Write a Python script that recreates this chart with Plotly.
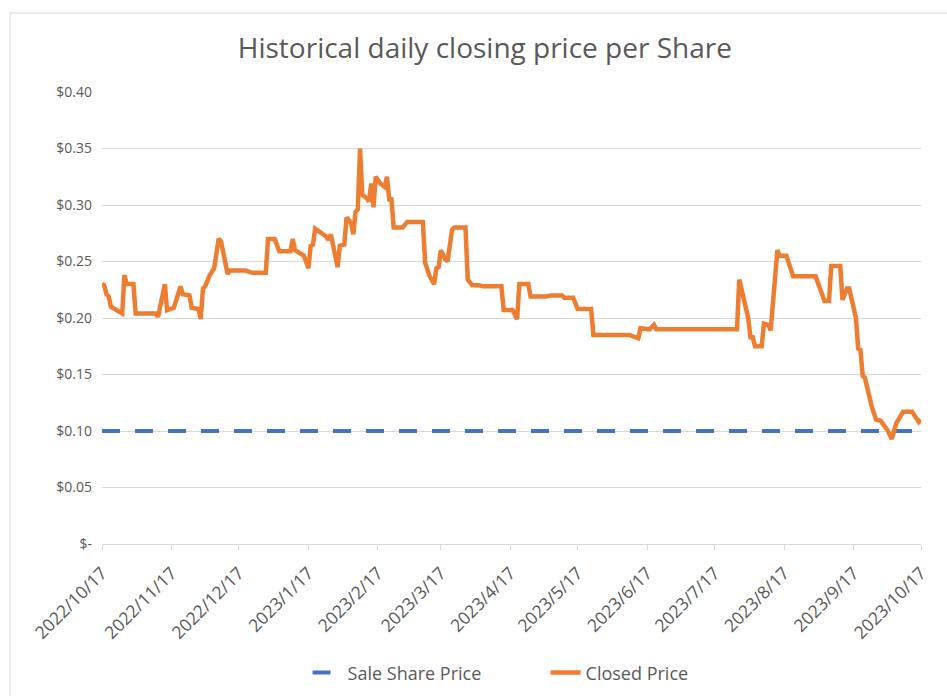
import plotly.graph_objects as go

# ---- data ----
close_dates = [
    "2022-10-17", "2022-10-18", "2022-10-19", "2022-10-20", "2022-10-21", "2022-10-24", "2022-10-26", "2022-10-27", "2022-10-28", "2022-10-31",
    "2022-11-01", "2022-11-10", "2022-11-11", "2022-11-14", "2022-11-15", "2022-11-18", "2022-11-21", "2022-11-22", "2022-11-25", "2022-11-26", "2022-11-29", "2022-11-30",
    "2022-12-01", "2022-12-02", "2022-12-04", "2022-12-06", "2022-12-08", "2022-12-09", "2022-12-12", "2022-12-13", "2022-12-20", "2022-12-23", "2022-12-29", "2022-12-30",
    "2023-01-02", "2023-01-04", "2023-01-09", "2023-01-10", "2023-01-11", "2023-01-15", "2023-01-17", "2023-01-18", "2023-01-19", "2023-01-20", "2023-01-25", "2023-01-26", "2023-01-27", "2023-01-30", "2023-01-31",
    "2023-02-02", "2023-02-03", "2023-02-05", "2023-02-06", "2023-02-07", "2023-02-08", "2023-02-09", "2023-02-10", "2023-02-12", "2023-02-13", "2023-02-14", "2023-02-15", "2023-02-16", "2023-02-18", "2023-02-20", "2023-02-21", "2023-02-22", "2023-02-23", "2023-02-24", "2023-02-28",
    "2023-03-02", "2023-03-09", "2023-03-10", "2023-03-12", "2023-03-14", "2023-03-15", "2023-03-16", "2023-03-17", "2023-03-19", "2023-03-20", "2023-03-22", "2023-03-23", "2023-03-28", "2023-03-29", "2023-03-31",
    "2023-04-03", "2023-04-05", "2023-04-13", "2023-04-14", "2023-04-18", "2023-04-20", "2023-04-21", "2023-04-25", "2023-04-26",
    "2023-05-03", "2023-05-05", "2023-05-10", "2023-05-11", "2023-05-15", "2023-05-17", "2023-05-23", "2023-05-24",
    "2023-06-09", "2023-06-13", "2023-06-14", "2023-06-18", "2023-06-20", "2023-06-21",
    "2023-07-27", "2023-07-28",
    "2023-08-01", "2023-08-02", "2023-08-03", "2023-08-04", "2023-08-07", "2023-08-08", "2023-08-10", "2023-08-11", "2023-08-14", "2023-08-15", "2023-08-18", "2023-08-21", "2023-08-31",
    "2023-09-04", "2023-09-06", "2023-09-07", "2023-09-11", "2023-09-12", "2023-09-14", "2023-09-15", "2023-09-18", "2023-09-19", "2023-09-20", "2023-09-21", "2023-09-22", "2023-09-25", "2023-09-27", "2023-09-29",
    "2023-10-02", "2023-10-04", "2023-10-06", "2023-10-09", "2023-10-13", "2023-10-16", "2023-10-17",
]
close_prices = [
    0.230, 0.229, 0.221, 0.219, 0.210, 0.206, 0.204, 0.238, 0.230, 0.230,
    0.204, 0.204, 0.201, 0.230, 0.207, 0.209, 0.228, 0.221, 0.220, 0.209, 0.208, 0.199,
    0.226, 0.228, 0.238, 0.244, 0.270, 0.268, 0.239, 0.242, 0.242, 0.240, 0.240, 0.270,
    0.270, 0.259, 0.259, 0.270, 0.260, 0.255, 0.244, 0.264, 0.265, 0.279, 0.272, 0.269, 0.274, 0.245, 0.264,
    0.265, 0.289, 0.284, 0.274, 0.294, 0.296, 0.350, 0.309, 0.306, 0.303, 0.319, 0.298, 0.325, 0.319, 0.316, 0.325, 0.305, 0.305, 0.280, 0.280,
    0.285, 0.285, 0.249, 0.237, 0.230, 0.244, 0.245, 0.260, 0.252, 0.250, 0.278, 0.280, 0.280, 0.234, 0.229,
    0.229, 0.228, 0.228, 0.207, 0.207, 0.199, 0.230, 0.230, 0.219,
    0.219, 0.220, 0.220, 0.218, 0.218, 0.208, 0.208, 0.185,
    0.185, 0.182, 0.191, 0.190, 0.194, 0.190,
    0.190, 0.234,
    0.200, 0.183, 0.183, 0.175, 0.175, 0.195, 0.194, 0.189, 0.260, 0.255, 0.255, 0.237, 0.237,
    0.215, 0.215, 0.246, 0.246, 0.216, 0.226, 0.226, 0.200, 0.173, 0.172, 0.149, 0.147, 0.122, 0.110, 0.109,
    0.101, 0.093, 0.107, 0.117, 0.117, 0.108, 0.110,
]
sale_dates = ["2022-10-17", "2023-10-17"]
sale_prices = [0.10, 0.10]

x_tick_vals = ["2022-10-17", "2022-11-17", "2022-12-17", "2023-01-17", "2023-02-17", "2023-03-17",
               "2023-04-17", "2023-05-17", "2023-06-17", "2023-07-17", "2023-08-17", "2023-09-17", "2023-10-17"]
x_tick_text = ["2022/10/17", "2022/11/17", "2022/12/17", "2023/1/17", "2023/2/17", "2023/3/17",
               "2023/4/17", "2023/5/17", "2023/6/17", "2023/7/17", "2023/8/17", "2023/9/17", "2023/10/17"]
y_tick_vals = [0, 0.05, 0.10, 0.15, 0.20, 0.25, 0.30, 0.35, 0.40]
y_tick_text = ["$-", "$0.05", "$0.10", "$0.15", "$0.20", "$0.25", "$0.30", "$0.35", "$0.40"]

FONT = "Segoe UI, Open Sans, sans-serif"
GREY = "#595959"

fig = go.Figure()
fig.add_trace(go.Scatter(
    x=sale_dates, y=sale_prices, mode="lines", name="Sale Share Price",
    line=dict(color="#4472C4", width=4, dash="18px,15px"),
))
fig.add_trace(go.Scatter(
    x=close_dates, y=close_prices, mode="lines", name="Closed Price",
    line=dict(color="#ED7D31", width=4.5),
))

fig.update_layout(
    width=947, height=696,
    margin=dict(l=102, r=26, t=92, b=152, autoexpand=False),
    paper_bgcolor="white", plot_bgcolor="white",
    font=dict(family=FONT, color=GREY, size=15),
    title=dict(text="Historical daily closing price per Share", x=0.512, xanchor="center",
               y=1 - 48 / 696, yanchor="middle", xref="container", yref="container",
               font=dict(family=FONT, size=28, color=GREY)),
    showlegend=True,
    legend=dict(orientation="h", x=0.251, xanchor="left", y=-0.285, yanchor="middle",
                entrywidth=193, entrywidthmode="pixels",
                font=dict(family=FONT, size=18, color=GREY), traceorder="normal"),
    xaxis=dict(
        type="date", range=["2022-10-17", "2023-10-17"], automargin=False,
        tickmode="array", tickvals=x_tick_vals, ticktext=x_tick_text, tickangle=-45,
        showgrid=False, zeroline=False, showline=True, linecolor="#D9D9D9", linewidth=1,
        ticks="outside", ticklen=5, tickcolor="#D9D9D9", ticklabelstandoff=6,
        tickfont=dict(family=FONT, size=17.5, color=GREY),
    ),
    yaxis=dict(
        range=[0, 0.40], tickmode="array", tickvals=y_tick_vals, ticktext=y_tick_text,
        automargin=False,
        showgrid=True, gridcolor="#D9D9D9", gridwidth=1, zeroline=False, showline=False,
        ticks="", ticklabelstandoff=9,
        tickfont=dict(family=FONT, size=14, color=GREY),
    ),
    shapes=[dict(type="rect", xref="paper", yref="paper",
                 x0=-0.1123, x1=1.2, y0=-0.6, y1=1.1748,
                 line=dict(color="#D9D9D9", width=1), fillcolor="rgba(0,0,0,0)", layer="below")],
)

fig.write_html("out.html", config={"displayModeBar": False},
               post_script="document.body.style.margin='0';")
